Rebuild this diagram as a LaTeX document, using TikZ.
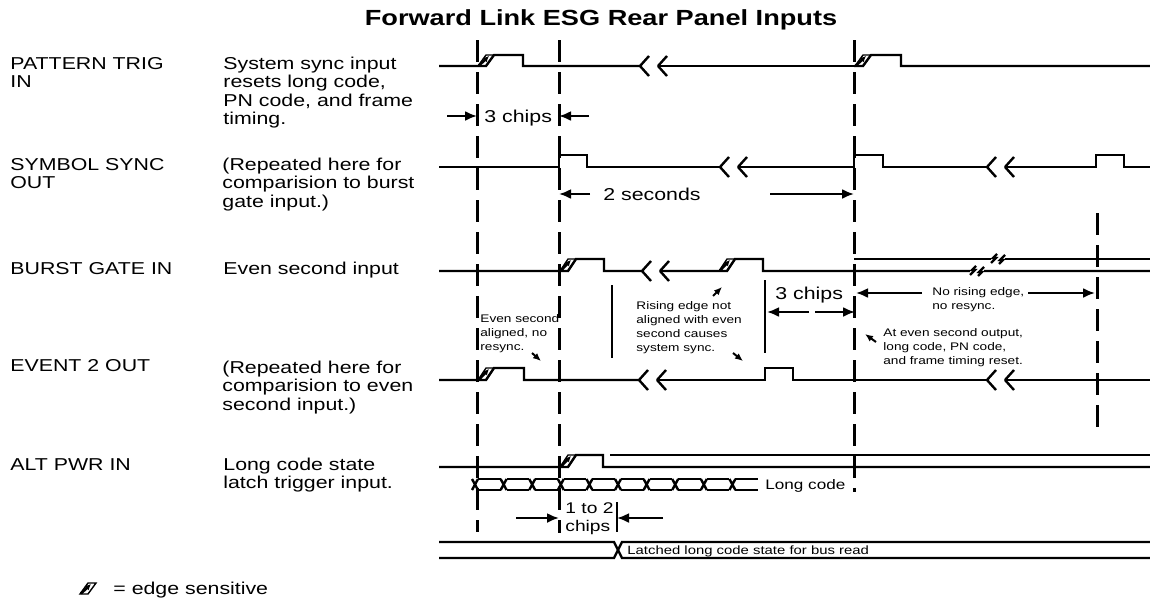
\documentclass[tikz,border=0pt]{standalone}
\usepackage{fontspec}
\setmainfont{Liberation Sans}
\usepackage{graphicx}
\usetikzlibrary{arrows.meta}
\newcommand\fmain{\fontsize{8.6}{9.3}\selectfont}
\newcommand\fsmall{\fontsize{5.5}{7}\selectfont}
\newcommand\fmid{\fontsize{7.75}{9}\selectfont}
\newcommand\flong{\fontsize{6.9}{8}\selectfont}
\newcommand\flatch{\fontsize{6}{7}\selectfont}
\newcommand\ftitle{\fontsize{10.95}{12}\bfseries\selectfont}
\newcommand\wtxt[2]{\scalebox{1.24}[1]{#1\begin{tabular}[t]{@{}l@{}}#2\end{tabular}}}
\newcommand\edgesym[3]{%
  \draw[line width=0.7pt] (#1+1,#2) -- (#1+9,#2) -- (#1+17,#3) -- (#1+9,#3) -- cycle;
  \draw[line width=1.3pt,-{Latex[length=3pt,width=3pt]}] (#1+2,#2-0.5) -- (#1+12,#3+1);}
\newcommand\brk[3]{% left end, right end, y
  \draw[wave] (#1,#3) -- (#1+9,#3-10) (#1,#3) -- (#1+9,#3+10);
  \draw[wave] (#2,#3) -- (#2+9,#3-10) (#2,#3) -- (#2+9,#3+10);}
\newcommand\sbrk[2]{% small break centre, y
  \fill[white] (#1-7,#2-2) rectangle (#1+7,#2+2);
  \draw[line width=1.1pt] (#1-7,#2+4) -- (#1-2,#2-1) -- (#1-5,#2-1) -- (#1-1,#2-5)
    (#1+1,#2+5) -- (#1+5,#2+1) -- (#1+2,#2+1) -- (#1+7,#2-4);}
\tikzset{
  wave/.style={line width=1.2pt, line join=miter},
  dashv/.style={line width=1.5pt, dash pattern=on 11pt off 5pt},
  txt/.style={inner sep=0pt, anchor=base west},
  dimarrow/.style={line width=1.1pt, -{Latex[length=6pt,width=5pt]}},
  ptr/.style={line width=1pt, -{Latex[length=4pt,width=3.4pt]}},
}
\begin{document}
\begin{tikzpicture}[x=0.5pt,y=-0.5pt]
\useasboundingbox[fill=white] (0,0) rectangle (1150,600);
% title
\node[inner sep=0pt, anchor=base] (title) at (601,25) {\ftitle\scalebox{1.24}[1]{Forward Link ESG Rear Panel Inputs}};
% row labels
\node[txt] (l1) at (10,69) {\wtxt{\fmain}{PATTERN TRIG\\IN}};
\node[txt] (l2) at (10,170) {\wtxt{\fmain}{SYMBOL SYNC\\OUT}};
\node[txt] (l3) at (10,274) {\wtxt{\fmain}{BURST GATE IN}};
\node[txt] (l4) at (10,371) {\wtxt{\fmain}{EVENT 2 OUT}};
\node[txt] (l5) at (10,470) {\wtxt{\fmain}{ALT PWR IN}};
% descriptions
\node[txt] (d1) at (223,69) {\wtxt{\fmain}{System sync input\\resets long code,\\PN code, and frame\\timing.}};
\node[txt] (d2) at (222,170) {\wtxt{\fmain}{(Repeated here for\\comparision to burst\\gate input.)}};
\node[txt] (d3) at (223,274) {\wtxt{\fmain}{Even second input}};
\node[txt] (d4) at (222,373) {\wtxt{\fmain}{(Repeated here for\\comparision to even\\second input.)}};
\node[txt] (d5) at (223,470) {\wtxt{\fmain}{Long code state\\latch trigger input.}};
% dashed reference lines
\draw[dashv] (477,40) -- (477,532);
\draw[dashv] (559,40) -- (559,533);
\draw[dashv] (854,40) -- (854,492);
\draw[dashv] (1097,213) -- (1097,436);
% row 1 PATTERN TRIG IN
\draw[wave] (439,66) -- (486,66) -- (494,55) -- (523,55) -- (523,66) -- (640,66);
\draw[wave] (658,66) -- (854,66);
\draw[wave] (854,66) -- (863,66) -- (871,55) -- (901,55) -- (901,66) -- (1150,66);
\edgesym{477}{66}{55}
\edgesym{854}{66}{55}
\brk{640}{658}{66}
% row 2 SYMBOL SYNC OUT
\draw[wave] (439,167) -- (559,167) -- (559,155) -- (587,155) -- (587,167) -- (720,167);
\draw[wave] (738,167) -- (854,167) -- (854,155) -- (883,155) -- (883,167) -- (987,167);
\draw[wave] (1005,167) -- (1096,167) -- (1096,155) -- (1124,155) -- (1124,167) -- (1150,167);
\brk{720}{738}{167}
\brk{987}{1005}{167}
% row 3 BURST GATE IN
\draw[wave] (439,271) -- (568,271) -- (576,259) -- (604,259) -- (604,271) -- (642,271);
\draw[wave] (660,271) -- (727,271) -- (735,259) -- (763,259) -- (763,271) -- (1150,271);
\draw[wave] (854,259) -- (1150,259);
\edgesym{559}{271}{259}
\edgesym{718}{271}{259}
\brk{642}{660}{271}
\sbrk{977}{271}
\sbrk{998}{259}
% row 4 EVENT 2 OUT
\draw[wave] (439,380) -- (486,380) -- (494,368) -- (524,368) -- (524,380) -- (639,380);
\draw[wave] (657,380) -- (765,380) -- (765,368) -- (793,368) -- (793,380) -- (987,380);
\draw[wave] (1005,380) -- (1150,380);
\edgesym{477}{380}{368}
\brk{639}{657}{380}
\brk{987}{1005}{380}
% row 5 ALT PWR IN
\draw[wave] (439,467) -- (568,467) -- (576,455) -- (603,455) -- (603,467) -- (1150,467);
\draw[wave] (610,455) -- (1150,455);
\edgesym{559}{467}{455}
% long code bus
\foreach \t in {475,503.6,532.2,560.8,589.4,618,646.6,675.2,703.8,732.4}{
  \draw[wave] (\t-3,479) -- (\t+3,490) (\t-3,490) -- (\t+3,479);
}
\foreach \a/\b in {475/503.6,503.6/532.2,532.2/560.8,560.8/589.4,589.4/618,618/646.6,646.6/675.2,675.2/703.8,703.8/732.4}{
  \draw[wave] (\a+3,479) -- (\b-3,479) (\a+3,490) -- (\b-3,490);
}
\draw[wave] (735.4,479) -- (758,479) (735.4,490) -- (758,490);
\node[txt] (lc) at (765,489) {\flong\scalebox{1.24}[1]{Long code}};
% latched bus
\draw[wave] (439,542) -- (614,542) -- (622,558) -- (1150,558);
\draw[wave] (439,558) -- (614,558) -- (622,542) -- (1150,542);
\node[txt] (lat) at (627,554) {\flatch\scalebox{1.24}[1]{Latched long code state for bus read}};
% 3 chips (top)
\node[txt] (c3a) at (484,122) {\fmain\scalebox{1.24}[1]{3 chips}};
\draw[dimarrow] (447,116) -- (477,116);
\draw[dimarrow] (589,116) -- (559,116);
% 2 seconds
\node[txt] (s2) at (603,200) {\fmain\scalebox{1.24}[1]{2 seconds}};
\draw[dimarrow] (590,194) -- (559,194);
\draw[dimarrow] (770,194) -- (854,194);
% 3 chips (middle)
\node[txt] (c3b) at (775,299) {\fmain\scalebox{1.24}[1]{3 chips}};
\draw[line width=1.1pt] (765,280) -- (765,353);
\draw[dimarrow] (809,312) -- (767,312);
\draw[dimarrow] (815,312) -- (855,312);
% no rising edge
\node[txt] (nre) at (932,295) {\wtxt{\fsmall}{No rising edge,\\no resync.}};
\draw[dimarrow] (922,293) -- (856,293);
\draw[dimarrow] (1028,293) -- (1095,293);
% at even second output
\node[txt] (aes) at (883,336) {\wtxt{\fsmall}{At even second output,\\long code, PN code,\\and frame timing reset.}};
\draw[ptr] (876,342) -- (865,334);
% even second aligned
\node[txt] (esa) at (480,322) {\wtxt{\fsmall}{Even second\\aligned, no\\resync.}};
\draw[ptr] (532,353) -- (541,361);
% rising edge not aligned
\draw[line width=1.1pt] (612,285) -- (612,358);
\node[txt] (rena) at (636,309) {\wtxt{\fsmall}{Rising edge not\\aligned with even\\second causes\\system sync.}};
\draw[ptr] (713,296) -- (722,287);
\draw[ptr] (733,353) -- (743,361);
% 1 to 2 chips
\draw[line width=1.1pt] (617,502) -- (617,532);
\node[txt] (c12) at (565,513) {\wtxt{\fmid}{1 to 2\\chips}};
\draw[dimarrow] (516,518) -- (559,518);
\draw[dimarrow] (663,518) -- (617,518);
% legend
\edgesym{79}{594}{583}
\node[txt] (leg) at (113,594) {\fmain\scalebox{1.24}[1]{= edge sensitive}};
\end{tikzpicture}
\end{document}
